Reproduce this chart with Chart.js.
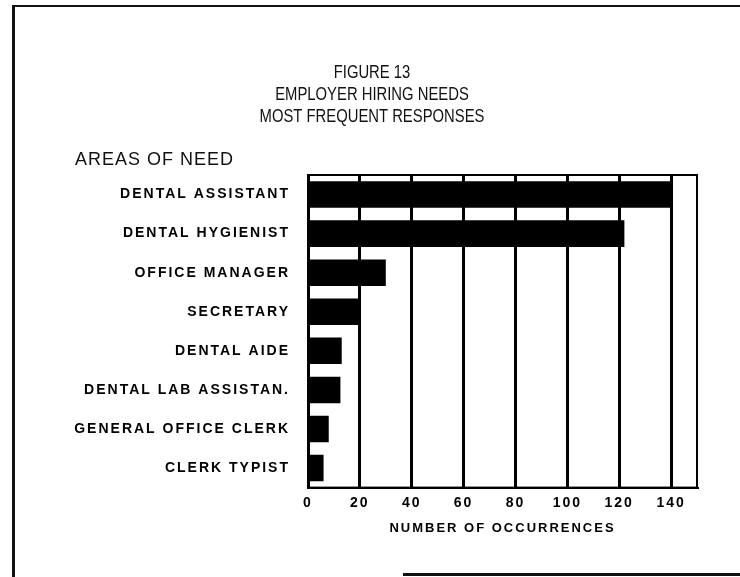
<!DOCTYPE html>
<html lang="en">
<head>
  <meta charset="UTF-8">
  <title>Figure 13 - Employer Hiring Needs</title>
  <script src="https://cdn.jsdelivr.net/npm/chart.js"></script>
  <style>
    html, body { margin: 0; padding: 0; background: #fff; }
    .page { position: relative; width: 740px; height: 577px; overflow: hidden; }
    /* scanned page frame */
    .edge { position: absolute; background: #111; }
    .edge.left { left: 12px; top: 6px; width: 3px; height: 571px; }
    .edge.top { left: 12px; top: 5px; width: 728px; height: 2px; }
    .edge.bottom { left: 403px; top: 573px; width: 337px; height: 3px; }
  </style>
</head>
<body>
  <div class="page">
    <canvas id="needsChart" width="740" height="577"></canvas>
    <div class="edge left"></div>
    <div class="edge top"></div>
    <div class="edge bottom"></div>
  </div>

  <script>
    // areas of need, top to bottom
    const areas = [
      'DENTAL ASSISTANT',
      'DENTAL HYGIENIST',
      'OFFICE MANAGER',
      'SECRETARY',
      'DENTAL AIDE',
      'DENTAL LAB ASSISTAN.',
      'GENERAL OFFICE CLERK',
      'CLERK TYPIST'
    ];
    // number of occurrences
    const occurrences = [140, 122, 30, 20, 13, 12.5, 8, 6];
    const xTicks = [0, 20, 40, 60, 80, 100, 120, 140];

    const titleLines = ['FIGURE 13', 'EMPLOYER HIRING NEEDS', 'MOST FREQUENT RESPONSES'];
    const sideTitle = 'AREAS OF NEED';

    // typewriter-ish spacing for the axis text, a narrow face for the heading,
    // and a box round the plot
    const figureText = {
      id: 'figureText',
      beforeDraw(chart) {
        chart.ctx.letterSpacing = '2px';
      },
      afterDatasetsDraw(chart) {
        const ctx = chart.ctx;
        const a = chart.chartArea;
        ctx.save();
        ctx.strokeStyle = '#000';
        ctx.lineWidth = 2;
        ctx.strokeRect(a.left, a.top, a.right - a.left, a.bottom - a.top);
        ctx.restore();
      },
      afterDraw(chart) {
        const ctx = chart.ctx;
        ctx.save();
        ctx.fillStyle = '#111';
        ctx.textBaseline = 'middle';

        ctx.letterSpacing = '0px';
        ctx.textAlign = 'center';
        ctx.font = '19px "Liberation Sans", Arial, sans-serif';
        titleLines.forEach((line, i) => {
          ctx.save();
          ctx.translate(372, 73 + i * 22);
          ctx.scale(0.78, 1);
          ctx.fillText(line, 0, 0);
          ctx.restore();
        });

        ctx.letterSpacing = '1px';
        ctx.textAlign = 'left';
        ctx.font = '18px "Liberation Sans", Arial, sans-serif';
        ctx.fillText(sideTitle, 75, 160);
        ctx.restore();
      }
    };

    const ctx = document.getElementById('needsChart').getContext('2d');
    const needsChart = new Chart(ctx, {
      type: 'bar',
      data: {
        labels: areas,
        datasets: [{
          data: occurrences,
          backgroundColor: '#000',
          borderWidth: 0,
          barPercentage: 0.68,
          categoryPercentage: 1
        }]
      },
      options: {
        indexAxis: 'y',
        responsive: false,
        animation: false,
        layout: { padding: { top: 175, right: 43, bottom: 41, left: 0 } },
        plugins: {
          legend: { display: false },
          tooltip: { enabled: false },
          title: { display: false }
        },
        scales: {
          x: {
            min: 0,
            max: 150,
            afterBuildTicks: (axis) => { axis.ticks = xTicks.map(v => ({ value: v })); },
            grid: { color: '#000', lineWidth: 3, drawTicks: false },
            border: { color: '#000', width: 2 },
            ticks: {
              padding: 7,
              color: '#000',
              font: { family: '"Liberation Sans", Arial, sans-serif', size: 14, weight: 'bold' }
            },
            title: {
              display: true,
              text: 'NUMBER OF OCCURRENCES',
              color: '#000',
              font: { family: '"Liberation Sans", Arial, sans-serif', size: 13, weight: 'bold' },
              padding: { top: 2, bottom: 0 }
            }
          },
          y: {
            afterFit: (axis) => { axis.width = 308; },
            grid: { display: false, drawTicks: false },
            border: { color: '#000', width: 2 },
            ticks: {
              padding: 18,
              color: '#000',
              font: { family: '"Liberation Sans", Arial, sans-serif', size: 14, weight: 'bold' }
            }
          }
        }
      },
      plugins: [figureText]
    });
  </script>
</body>
</html>
